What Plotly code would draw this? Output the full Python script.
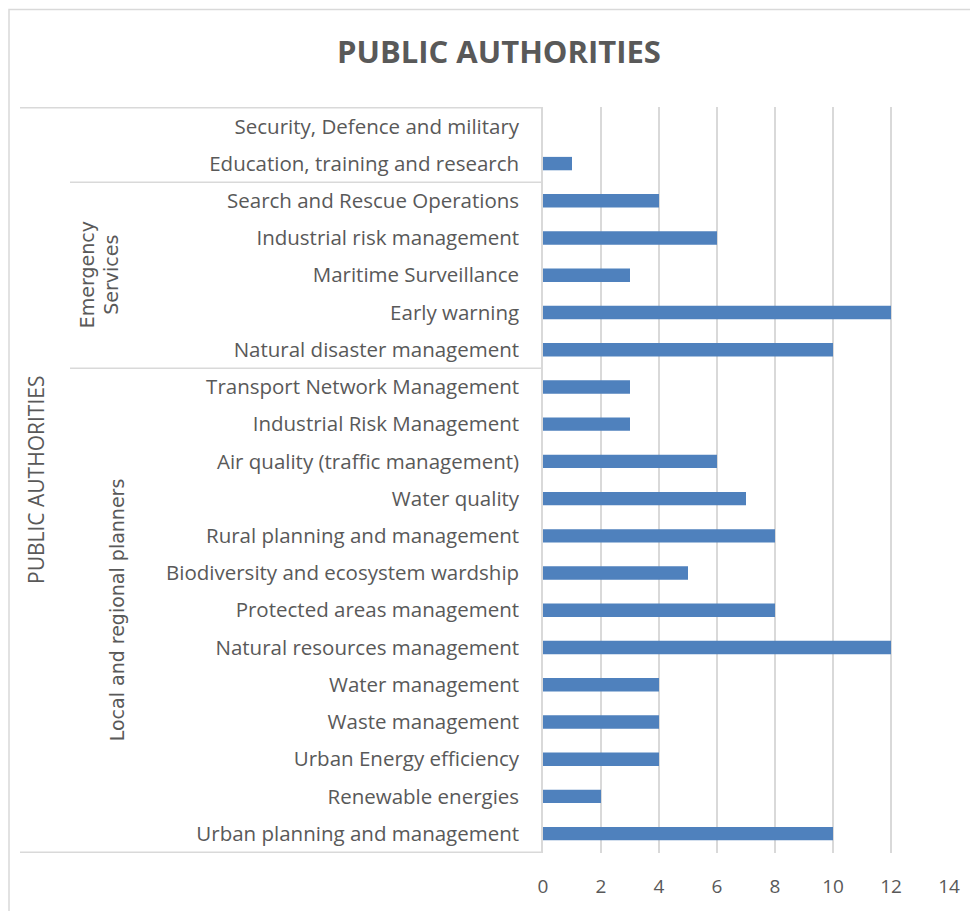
import plotly.graph_objects as go

categories = [
    "Security, Defence and military",
    "Education, training and research",
    "Search and Rescue Operations",
    "Industrial risk management",
    "Maritime Surveillance",
    "Early warning",
    "Natural disaster management",
    "Transport Network Management",
    "Industrial Risk Management",
    "Air quality (traffic management)",
    "Water quality",
    "Rural planning and management",
    "Biodiversity and ecosystem wardship",
    "Protected areas management",
    "Natural resources management",
    "Water management",
    "Waste management",
    "Urban Energy efficiency",
    "Renewable energies",
    "Urban planning and management",
]
values = [0, 1, 4, 6, 3, 12, 10, 3, 3, 6, 7, 8, 5, 8, 12, 4, 4, 4, 2, 10]
groups = [("", 0, 1), ("Emergency<br>Services", 2, 6), ("Local and regional planners", 7, 19)]
top_group = "PUBLIC AUTHORITIES"
title_text = "PUBLIC AUTHORITIES"
x_ticks = [0, 2, 4, 6, 8, 10, 12, 14]

OFF = 8  # page body margin
W, H = 978 - OFF, 911 - OFF
L, R, T, B = 543 - OFF, 29, 107 - OFF, 55
pw = W - L - R
ph = H - T - B


def px(x):
    return (x - OFF - L) / pw


def py(y):
    return (H - B - (y - OFF)) / ph


GRAY = "#D9D9D9"
TXT = "#595959"

fig = go.Figure(go.Bar(
    x=values, y=categories, orientation="h",
    marker=dict(color="#4F81BD", line=dict(width=0)),
    width=0.36,
))

shapes = []
shapes.append(dict(type="rect", xref="paper", yref="paper",
                   x0=px(9), x1=px(1000), y0=py(9), y1=py(1000),
                   line=dict(color=GRAY, width=1.5)))
shapes.append(dict(type="line", xref="paper", yref="y", x0=px(20), x1=0, y0=-0.5, y1=-0.5,
                   line=dict(color=GRAY, width=1.5)))
shapes.append(dict(type="line", xref="paper", yref="y", x0=px(20), x1=0, y0=19.5, y1=19.5,
                   line=dict(color=GRAY, width=1.5)))
for g, s, e in groups[1:]:
    shapes.append(dict(type="line", xref="paper", yref="y", x0=px(70), x1=0, y0=s - 0.5, y1=s - 0.5,
                       line=dict(color=GRAY, width=1.5)))

annotations = []
gx = {"Emergency<br>Services": 99, "Local and regional planners": 117}
for g, s, e in groups:
    if not g:
        continue
    annotations.append(dict(text=g, xref="paper", yref="y", x=px(gx[g]), y=(s + e) / 2,
                            showarrow=False, textangle=-90, xanchor="center", yanchor="middle",
                            font=dict(family="DejaVu Sans", size=19, color=TXT)))
annotations.append(dict(text=top_group, xref="paper", yref="paper", x=px(36), y=0.5,
                        showarrow=False, textangle=-90, xanchor="center", yanchor="middle",
                        font=dict(family="Open Sans", size=21, color=TXT)))

fig.update_layout(
    width=W, height=H,
    margin=dict(l=L, r=R, t=T, b=B),
    paper_bgcolor="white", plot_bgcolor="white",
    showlegend=False,
    title=dict(text="<b>" + title_text + "</b>", xref="container", x=(499 - OFF) / W, xanchor="center",
               yref="container", y=1 - (52 - OFF) / H, yanchor="middle",
               font=dict(family="Open Sans", size=31, color=TXT)),
    xaxis=dict(range=[0, 14], tickvals=x_ticks, showgrid=True, gridcolor=GRAY, gridwidth=1.5,
               zeroline=False, showline=False, ticks="", ticklabelstandoff=20,
               tickfont=dict(family="Open Sans", size=19, color=TXT), fixedrange=True),
    yaxis=dict(autorange="reversed", showgrid=False, zeroline=False, showline=True,
               linecolor=GRAY, linewidth=1.5, ticks="", ticklabelstandoff=18,
               tickfont=dict(family="Open Sans", size=20.5, color=TXT)),
    shapes=shapes,
    annotations=annotations,
)

fig.write_html("out.html")
